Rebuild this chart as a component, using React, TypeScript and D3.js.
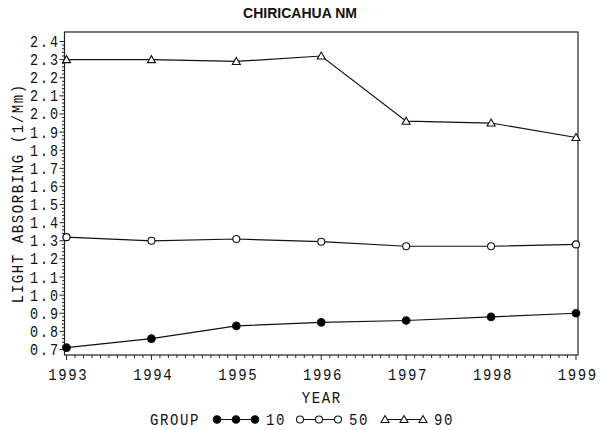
import React, { useEffect, useRef } from "react";
import * as d3 from "d3";

const years = [1993, 1994, 1995, 1996, 1997, 1998, 1999];
const group10 = [0.71, 0.76, 0.83, 0.85, 0.86, 0.88, 0.9];
const group50 = [1.32, 1.3, 1.31, 1.295, 1.27, 1.27, 1.28];
const group90 = [2.3, 2.3, 2.29, 2.32, 1.96, 1.95, 1.87];
const yTicks = [0.7, 0.8, 0.9, 1.0, 1.1, 1.2, 1.3, 1.4, 1.5, 1.6, 1.7, 1.8, 1.9, 2.0, 2.1, 2.2, 2.3, 2.4];
const groupNames = ["10", "50", "90"];

const W = 600;
const H = 430;
const MONO = "'Liberation Mono', 'DejaVu Sans Mono', monospace";
const SX = 0.85;
const PITCH = 10;

type Marker = "dot" | "circle" | "triangle";

const App: React.FC = () => {
  const ref = useRef<SVGSVGElement | null>(null);

  useEffect(() => {
    const svg = d3.select(ref.current);
    svg.selectAll("*").remove();

    const left = 64.5;
    const right = 578;
    const top = 32;
    const bottom = 355;

    const x = d3.scaleLinear().domain([1993, 1999]).range([66.5, 576]);
    const y = d3.scaleLinear().domain([0.7, 2.4]).range([349.5, 41.5]);

    // condensed mono text, like the SAS hardware font
    const monoText = (
      px: number,
      py: number,
      str: string,
      anchor: string,
      rotate = 0,
      size = 16.5
    ) => {
      const ls = PITCH / SX - 0.6 * size;
      const shift = anchor === "end" ? ls * SX : anchor === "middle" ? (ls * SX) / 2 : 0;
      svg
        .append("text")
        .attr(
          "transform",
          rotate
            ? `translate(${px},${py - shift}) rotate(${rotate}) scale(${SX},1)`
            : `translate(${px + shift},${py}) scale(${SX},1)`
        )
        .attr("font-family", MONO)
        .attr("font-size", size)
        .attr("letter-spacing", ls)
        .attr("text-anchor", anchor)
        .attr("fill", "#111")
        .text(str);
    };

    // title
    svg
      .append("text")
      .attr("x", 300)
      .attr("y", 18)
      .attr("text-anchor", "middle")
      .attr("font-family", "'Liberation Sans', Arial, sans-serif")
      .attr("font-weight", "bold")
      .attr("font-size", 14)
      .attr("fill", "#111")
      .text("CHIRICAHUA NM");

    // frame
    svg
      .append("rect")
      .attr("x", left)
      .attr("y", top)
      .attr("width", right - left)
      .attr("height", bottom - top)
      .attr("fill", "none")
      .attr("stroke", "#222")
      .attr("stroke-width", 1.2);

    // y ticks
    const yMinor: number[] = [];
    for (let i = 0; i < yTicks.length - 1; i++) {
      for (let k = 1; k < 5; k++) yMinor.push(yTicks[i] + (k * (yTicks[i + 1] - yTicks[i])) / 5);
    }
    svg
      .selectAll(".ymin")
      .data(yMinor)
      .enter()
      .append("line")
      .attr("x1", left - 2.5)
      .attr("x2", left)
      .attr("y1", (d) => y(d))
      .attr("y2", (d) => y(d))
      .attr("stroke", "#222");
    svg
      .selectAll(".ymaj")
      .data(yTicks)
      .enter()
      .append("line")
      .attr("x1", left - 5)
      .attr("x2", left)
      .attr("y1", (d) => y(d))
      .attr("y2", (d) => y(d))
      .attr("stroke", "#222");
    yTicks.forEach((t) => monoText(58, y(t) + 5.5, t.toFixed(1), "end", 0, 15.8));

    // x ticks
    const xMinor: number[] = [];
    for (let i = 0; i < years.length - 1; i++) {
      for (let k = 1; k < 10; k++) xMinor.push(years[i] + k / 10);
    }
    svg
      .selectAll(".xmin")
      .data(xMinor)
      .enter()
      .append("line")
      .attr("x1", (d) => x(d))
      .attr("x2", (d) => x(d))
      .attr("y1", bottom)
      .attr("y2", bottom + 3)
      .attr("stroke", "#222");
    svg
      .selectAll(".xmaj")
      .data(years)
      .enter()
      .append("line")
      .attr("x1", (d) => x(d))
      .attr("x2", (d) => x(d))
      .attr("y1", bottom)
      .attr("y2", bottom + 5)
      .attr("stroke", "#222");
    years.forEach((yr) => monoText(x(yr) + 1, 380, String(yr), "middle"));

    // axis titles
    monoText(321, 403, "YEAR", "middle");
    monoText(23, 194, "LIGHT ABSORBING (1/Mm)", "middle", -90);

    const drawMarker = (g: d3.Selection<SVGGElement, unknown, null, undefined>, cx: number, cy: number, m: Marker) => {
      if (m === "triangle") {
        g.append("path")
          .attr("d", `M${cx},${cy - 4}L${cx + 4},${cy + 3}L${cx - 4},${cy + 3}Z`)
          .attr("fill", "#fff")
          .attr("stroke", "#111")
          .attr("stroke-width", 1.1);
      } else {
        g.append("circle")
          .attr("cx", cx)
          .attr("cy", cy)
          .attr("r", m === "dot" ? 3.8 : 3.5)
          .attr("fill", m === "dot" ? "#000" : "#fff")
          .attr("stroke", "#111")
          .attr("stroke-width", 1.1);
      }
    };

    const series: { values: number[]; marker: Marker }[] = [
      { values: group10, marker: "dot" },
      { values: group50, marker: "circle" },
      { values: group90, marker: "triangle" },
    ];

    const line = d3
      .line<number>()
      .x((_, i) => x(years[i]))
      .y((d) => y(d));

    series.forEach((s) => {
      const g = svg.append("g");
      g.append("path")
        .attr("d", line(s.values) || "")
        .attr("fill", "none")
        .attr("stroke", "#111")
        .attr("stroke-width", 1.2);
      s.values.forEach((v, i) => drawMarker(g, x(years[i]), y(v), s.marker));
    });

    // legend
    monoText(150, 425, "GROUP", "start");
    const legendX = [217, 300, 385];
    series.forEach((s, i) => {
      const g = svg.append("g");
      const x0 = legendX[i];
      g.append("line")
        .attr("x1", x0)
        .attr("x2", x0 + 38)
        .attr("y1", 419.5)
        .attr("y2", 419.5)
        .attr("stroke", "#111")
        .attr("stroke-width", 1.2);
      [0, 19, 38].forEach((dx) => drawMarker(g, x0 + dx, 419.5, s.marker));
      monoText(x0 + 49, 425, groupNames[i], "start");
    });
  }, []);

  return (
    <div style={{ position: "fixed", left: 0, top: 0, width: W, height: H, overflow: "hidden", background: "#fff" }}>
      <svg ref={ref} width={W} height={H} style={{ display: "block" }}></svg>
    </div>
  );
};

export default App;
